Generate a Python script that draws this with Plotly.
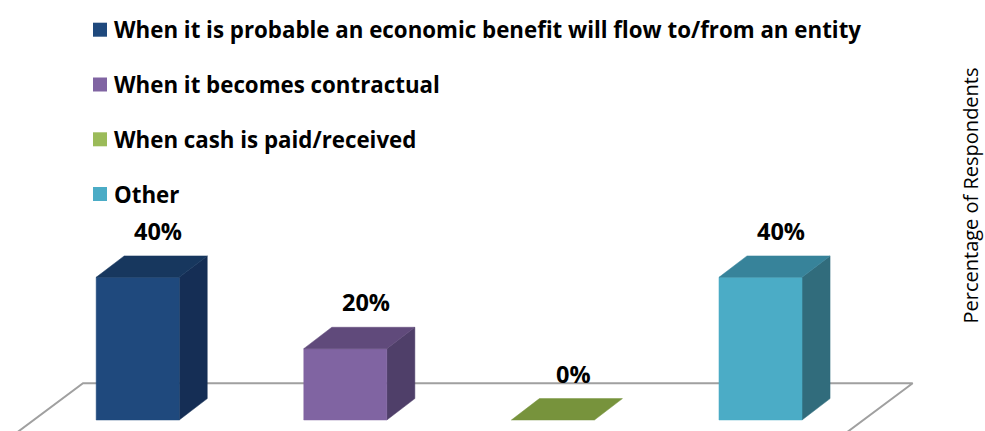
import plotly.graph_objects as go

# ---- data ----
categories = [
    "When it is probable an economic benefit will flow to/from an entity",
    "When it becomes contractual",
    "When cash is paid/received",
    "Other",
]
values = [40, 20, 0, 40]
value_labels = ["40%", "20%", "0%", "40%"]
axis_title = "Percentage of Respondents"

# ---- styles ----
front_colors = ["#1F497D", "#8064A2", "#77933C", "#4BACC6"]
top_colors = ["#17375E", "#604A7B", "#77933C", "#37839A"]
side_colors = ["#152E55", "#4F3F69", "#5F7730", "#316C7C"]
legend_colors = ["#1F497D", "#8064A2", "#9BBB59", "#4BACC6"]

W, H = 985, 431
half_w = 0.2          # half bar width (category units)
depth_dx = 0.135      # 3D depth offset (category units)
depth_dy = 6.0        # 3D depth offset (percent units)
floor_x0, floor_x1, floor_back_y = -0.2635, 3.733, 10.29
floor_slope = 0.02306  # category units per percent along depth edges
label_dx, label_dy = 0.1, 13.0

fig = go.Figure()

# floor (drawn first so bars cover it)
low = -20
fig.add_trace(go.Scatter(
    x=[floor_x0 - (floor_back_y - low) * floor_slope, floor_x0, floor_x1,
       floor_x1 - (floor_back_y - low) * floor_slope],
    y=[low, floor_back_y, floor_back_y, low],
    mode="lines", line=dict(color="#A0A0A0", width=2),
    hoverinfo="skip", showlegend=False))

for i, (cat, v) in enumerate(zip(categories, values)):
    xl, xr = i - half_w, i + half_w
    faces = []
    if v > 0:
        # side face
        faces.append(([xr, xr + depth_dx, xr + depth_dx, xr, xr],
                      [0, depth_dy, v + depth_dy, v, 0], side_colors[i]))
        # front face
        faces.append(([xl, xr, xr, xl, xl], [0, 0, v, v, 0], front_colors[i]))
    # top face
    faces.append(([xl, xr, xr + depth_dx, xl + depth_dx, xl],
                  [v, v, v + depth_dy, v + depth_dy, v], top_colors[i]))
    for fx, fy, col in faces:
        fig.add_trace(go.Scatter(
            x=fx, y=fy, mode="lines", fill="toself", fillcolor=col,
            line=dict(color=col, width=0.5), name=cat,
            hovertemplate=f"{cat}: {v}%<extra></extra>", showlegend=False))

# value labels
for i, (v, lab) in enumerate(zip(values, value_labels)):
    fig.add_annotation(
        x=i + label_dx, y=v + label_dy, xref="x", yref="y", text=f"<b>{lab}</b>",
        showarrow=False, xanchor="center", yanchor="middle",
        font=dict(family="Open Sans", size=23.5, color="#000000"))

# legend (squares + text)
legend_y = [29.7, 84.5, 139.3, 194.0]
for cat, col, py in zip(categories, legend_colors, legend_y):
    fig.add_shape(type="rect", xref="paper", yref="paper",
                  x0=93 / W, x1=107 / W, y0=1 - (py + 7) / H, y1=1 - (py - 7) / H,
                  fillcolor=col, line=dict(width=0))
    fig.add_annotation(
        x=112 / W, y=1 - py / H, xref="paper", yref="paper",
        text=f"<b>{cat}</b>", showarrow=False, xanchor="left", yanchor="middle",
        font=dict(family="Open Sans", size=22.3, color="#000000"))

# axis title on the right
fig.add_annotation(
    x=1, y=1 - 196 / H, xref="paper", yref="paper", text=axis_title,
    textangle=-90, showarrow=False, xanchor="right", yanchor="middle",
    font=dict(family="Open Sans", size=20, color="#000000"))

fig.update_layout(
    width=W, height=H, margin=dict(l=0, r=0, t=0, b=0),
    paper_bgcolor="white", plot_bgcolor="white", showlegend=False,
    xaxis=dict(range=[-0.6633, 4.0814], visible=False, fixedrange=True),
    yaxis=dict(range=[-3.084, 117.75], visible=False, fixedrange=True),
)

fig.write_html("out.html", config={"displayModeBar": False},
               post_script="document.body.style.margin='0';"
                           "document.body.style.overflow='hidden';")
